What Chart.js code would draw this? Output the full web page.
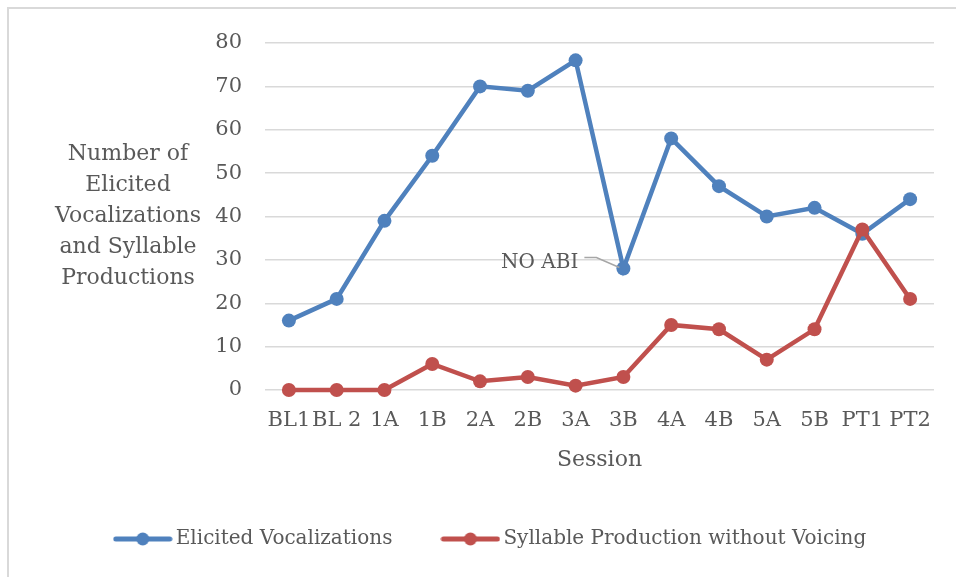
<!DOCTYPE html>
<html>
<head>
<meta charset="utf-8">
<script src="https://cdn.jsdelivr.net/npm/chart.js@4.4.1/dist/chart.umd.min.js"></script>
<style>
  html, body { margin: 0; padding: 0; background: #fff; overflow: hidden; }
  #frame { position: absolute; left: 7px; top: 7px; width: 1000px; height: 1000px; border: 2px solid #d9d9d9; }
  #wrap { position: absolute; left: 0; top: 0; width: 956px; height: 577px; }
</style>
</head>
<body>
<div id="frame"></div>
<div id="wrap"><canvas id="myChart" width="956" height="577"></canvas></div>
<script>
// sessions and counts
const sessions = ['BL1', 'BL 2', '1A', '1B', '2A', '2B', '3A', '3B', '4A', '4B', '5A', '5B', 'PT1', 'PT2']
const elicited = [16, 21, 39, 54, 70, 69, 76, 28, 58, 47, 40, 42, 36, 44]
const syllables = [0, 0, 0, 6, 2, 3, 1, 3, 15, 14, 7, 14, 37, 21]
const yTicks = [0, 10, 20, 30, 40, 50, 60, 70, 80]
const yTitleLines = ['Number of', 'Elicited', 'Vocalizations', 'and Syllable', 'Productions']

const blue = '#4f81bd'
const red = '#c0504d'
const textGray = '#595959'
const serif = "'DejaVu Serif', serif"

// little line-with-dot marker for the legend
const legendMarker = color => {
    const c = document.createElement('canvas')
    c.width = 60
    c.height = 16
    const g = c.getContext('2d')
    g.strokeStyle = color
    g.lineWidth = 5
    g.lineCap = 'round'
    g.beginPath()
    g.moveTo(3, 8)
    g.lineTo(57, 8)
    g.stroke()
    g.fillStyle = color
    g.beginPath()
    g.arc(30, 8, 6.5, 0, Math.PI * 2)
    g.fill()
    return c
}

// y title (horizontal, stacked) + the NO ABI callout
const extras = {
    id: 'extras',
    afterDatasetsDraw(chart) {
        const {ctx, chartArea} = chart
        ctx.save()
        ctx.fillStyle = textGray
        ctx.font = '22px ' + serif
        ctx.textAlign = 'center'
        ctx.textBaseline = 'middle'
        const mid = (chartArea.top + chartArea.bottom) / 2
        yTitleLines.forEach((t, i) => {
            ctx.fillText(t, 128, mid + (i - 2) * 31)
        })

        const pt = chart.getDatasetMeta(0).data[sessions.indexOf('3B')]
        ctx.strokeStyle = '#a6a6a6'
        ctx.lineWidth = 1.5
        ctx.beginPath()
        ctx.moveTo(pt.x - 39, pt.y - 11)
        ctx.lineTo(pt.x - 27, pt.y - 11)
        ctx.lineTo(pt.x - 4, pt.y - 1)
        ctx.stroke()
        ctx.font = '20px ' + serif
        ctx.textAlign = 'right'
        ctx.fillText('NO ABI', pt.x - 45, pt.y - 6)
        ctx.restore()
    }
}

const ctx = document.getElementById('myChart').getContext('2d')

let myChart = new Chart(ctx, {
    type: 'line',
    data: {
        labels: sessions,
        datasets: [
            {
                label: 'Elicited Vocalizations',
                data: elicited,
                borderColor: blue,
                backgroundColor: blue,
                borderWidth: 4.5,
                pointRadius: 7,
                pointBorderWidth: 0,
                pointStyle: 'circle',
                tension: 0,
                clip: false,
                order: 1
            },
            {
                label: 'Syllable Production without Voicing',
                data: syllables,
                borderColor: red,
                backgroundColor: red,
                borderWidth: 4.5,
                pointRadius: 7,
                pointBorderWidth: 0,
                pointStyle: 'circle',
                tension: 0,
                clip: false,
                order: 0
            }
        ]
    },
    options: {
        responsive: false,
        animation: false,
        layout: {
            padding: {left: 52, right: 22, top: 43, bottom: 18}
        },
        scales: {
            x: {
                offset: true,
                grid: {display: false, drawTicks: false, offset: true},
                border: {display: false},
                ticks: {
                    color: textGray,
                    font: {family: serif, size: 21},
                    padding: 18,
                    maxRotation: 0,
                    autoSkip: false
                },
                title: {
                    display: true,
                    text: 'Session',
                    color: textGray,
                    font: {family: serif, size: 22},
                    padding: {top: 4, bottom: 1}
                },
                afterFit: scale => { scale.height = 84 }
            },
            y: {
                min: 0,
                max: 80,
                afterBuildTicks: scale => {
                    scale.ticks = yTicks.map(v => ({value: v}))
                },
                grid: {color: '#d9d9d9', lineWidth: 1.5, drawTicks: false},
                border: {display: false},
                ticks: {
                    color: textGray,
                    font: {family: serif, size: 21},
                    padding: 23
                },
                afterFit: scale => { scale.width = 213 }
            }
        },
        plugins: {
            tooltip: {enabled: false},
            legend: {
                position: 'bottom',
                labels: {
                    color: textGray,
                    font: {family: serif, size: 20},
                    usePointStyle: true,
                    pointStyleWidth: 46,
                    padding: 55,
                    generateLabels: chart => chart.data.datasets.map((ds, i) => ({
                        text: ds.label,
                        fontColor: textGray,
                        pointStyle: legendMarker(ds.borderColor),
                        datasetIndex: i,
                        hidden: false,
                        lineWidth: 0,
                        strokeStyle: 'transparent',
                        fillStyle: 'transparent'
                    }))
                }
            }
        }
    },
    plugins: [extras]
})
</script>
</body>
</html>
